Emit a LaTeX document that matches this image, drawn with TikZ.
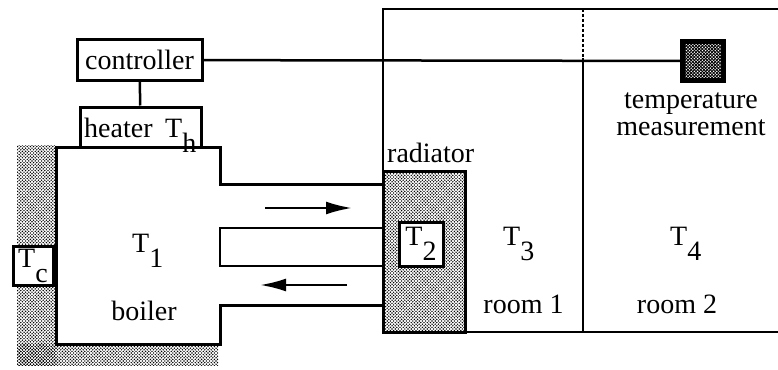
\documentclass[tikz,border=0pt]{standalone}
\usepackage{fontspec}
\setmainfont{Liberation Serif}
\usepackage{tikz}
\usetikzlibrary{calc, positioning, patterns, arrows.meta}

\newcommand{\Tix}[1]{T\raisebox{-15pt}{#1}}

% coarse dot raster for insulation and radiator
\pgfdeclarepatternformonly{rasterdots}{\pgfqpoint{-1pt}{-1pt}}{\pgfqpoint{4pt}{4pt}}{\pgfqpoint{3.2pt}{3.2pt}}{
    \pgfpathcircle{\pgfqpoint{0pt}{0pt}}{0.8pt}
    \pgfpathcircle{\pgfqpoint{1.6pt}{1.6pt}}{0.8pt}
    \pgfusepath{fill}
}

\begin{document}
\begin{tikzpicture}[x=1pt, y=-1pt, >={Latex[length=26pt,width=13pt]},
    txt/.style={font=\fontsize{28}{27}\selectfont, inner sep=0pt},
    box/.style={draw, line width=3pt, fill=white, inner sep=0pt, txt},
    wall/.style={line width=3pt},
    pipe/.style={line width=2.5pt},
    dotfill/.style={pattern=rasterdots, pattern color=black}]
    \useasboundingbox (0,0) rectangle (778,369);

    % insulation round the boiler
    \fill[dotfill] (17,145) rectangle (56,365);
    \fill[dotfill] (17,344) rectangle (218,365);

    % boiler with flow and return pipes
    \draw[wall, line join=miter] (383,184) -- (220,184) -- (220,147) -- (56,147)
        -- (56,344) -- (220,344) -- (220,305) -- (383,305);
    \draw[pipe] (383,228) -- (220,228) -- (220,266) -- (383,266);

    % rooms
    \draw[pipe] (383,171) -- (383,9) -- (778,9);
    \draw[pipe] (465,332) -- (778,332);
    \draw[pipe, densely dashed] (583,9) -- (583,58);
    \draw[pipe] (583,58) -- (583,332);

    % radiator
    \draw[wall, dotfill] (383,171) rectangle (465,332);
    \node[box, minimum width=44pt, minimum height=44pt] (t2) at (421,244) {\Tix{2}};
    \node[txt, anchor=base west] (radlabel) at (387,162) {radiator};

    % controller, heater, sensor
    \node[box, minimum width=125pt, minimum height=40pt] (controller) at (139.5,60) {controller};
    \node[box, minimum width=121pt, minimum height=40pt] (heater) at (140.5,127) {};
    \node[txt, anchor=base west] (heatlabel) at (84,137) {heater};
    \node[txt, anchor=base west] (th) at (165,137) {\Tix{h}};
    \node[draw, line width=2.5pt, fill=black, minimum width=43pt, minimum height=41pt,
        inner sep=0pt] (sensor) at (703,61) {};
    \fill[pattern=rasterdots, pattern color=white]
        ($(sensor.south west)+(5,-5)$) rectangle ($(sensor.north east)+(-5,5)$);
    \draw[pipe] (controller) -- (heater);
    \draw[pipe] (controller) -- (sensor);
    \node[txt, align=center] (measure) at (691,114) {temperature\\measurement};

    % temperatures
    \node[box, minimum width=40pt, minimum height=39pt] (tc) at (33,265.5) {\Tix{c}};
    \node[txt, anchor=base west] (t1) at (132,252) {\Tix{1}};
    \node[txt, anchor=base] (boiler) at (144,320) {boiler};
    \node[txt, anchor=base west] (t3) at (503,245) {\Tix{3}};
    \node[txt, anchor=base] (room1) at (523.5,313) {room 1};
    \node[txt, anchor=base west] (t4) at (670,245) {\Tix{4}};
    \node[txt, anchor=base] (room2) at (677,313) {room 2};

    % flow direction
    \coordinate (flowa) at (265,208);
    \coordinate (flowb) at (352,208);
    \coordinate (backa) at (347,285);
    \coordinate (backb) at (260,285);
    \draw[->, pipe] (flowa) -- (flowb);
    \draw[->, pipe] (backa) -- (backb);
\end{tikzpicture}
\end{document}
